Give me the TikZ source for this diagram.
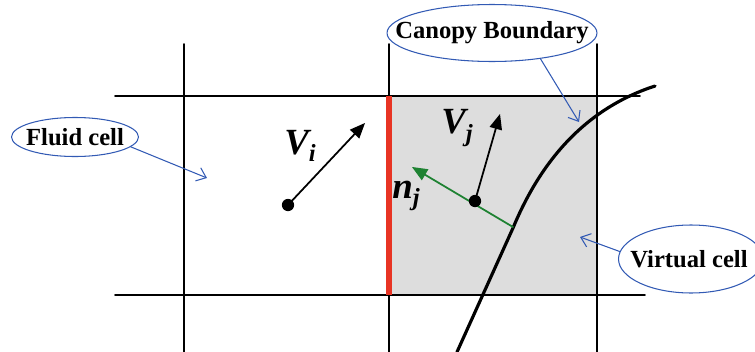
\documentclass[tikz,border=0pt]{standalone}
\usepackage{fontspec}
\setmainfont{Liberation Serif}
\usetikzlibrary{arrows,arrows.meta,shapes.geometric}
\definecolor{cellgray}{RGB}{221,221,221}
\definecolor{facered}{RGB}{232,52,36}
\definecolor{normgreen}{RGB}{30,130,50}
\definecolor{notblue}{RGB}{50,90,180}
\newcommand{\vlab}[2]{{\bfseries\itshape #1\raisebox{-0.45ex}{\fontsize{14}{14}\selectfont #2}}}
\tikzset{
  ring/.style={ellipse,draw=notblue,line width=0.6pt,inner sep=0pt},
  tag/.style={inner sep=0pt,font=\fontsize{14}{16}\selectfont\bfseries},
  tagarrow/.style={-{Straight Barb[length=5pt,width=8pt]},draw=notblue,line width=0.6pt},
  vecarrow/.style={->,>=triangle 45,line width=1pt},
  dot/.style={circle,fill=black,inner sep=0pt,minimum size=7pt},
  grid/.style={line width=1.1pt}
}
\begin{document}
\begin{tikzpicture}[line cap=round,line join=round,x=0.02cm,y=-0.02cm]
		\useasboundingbox (0,0) rectangle (755,352);
		% virtual cell
		\fill[cellgray] (389,96) rectangle (597,295);
		% grid lines
		\draw[grid] (115,96)--(640,96);
		\draw[grid] (115,295)--(645,295);
		\draw[grid] (184,44)--(184,352);
		\draw[grid] (389,44)--(389,352);
		\draw[grid] (597,44)--(597,352);
		% shared face
		\draw[facered,line width=3pt,line cap=butt] (389,96)--(389,295);
		% canopy boundary
		\draw[line width=1.8pt] (655,86) .. controls (575,112) and (535,175) .. (513,228) -- (457,352);
		% vectors
		\coordinate (wall) at (513,227);
		\coordinate (ntip) at (412,167);
		\draw[->,>=triangle 45,normgreen,line width=1pt] (wall)--(ntip);
		\node[dot] (pi) at (288,205) {};
		\node[dot] (pj) at (475,201) {};
		\coordinate (vitip) at (365,123);
		\coordinate (vjtip) at (500,114);
		\draw[vecarrow] (pi.center)--(vitip);
		\draw[vecarrow] (pj.center)--(vjtip);
		\node[font=\fontsize{21}{21}\selectfont] (vi) at (300,146) {\vlab{V}{i}};
		\node[font=\fontsize{21}{21}\selectfont] (vj) at (457,128) {\vlab{V}{j}};
		\node[font=\fontsize{21}{21}\selectfont] (nj) at (406,196) {\vlab{n}{j}};
		% labels
		\node[ring,minimum width=2.54cm,minimum height=0.78cm] (fluidring) at (75,137) {};
		\node[tag] (fluid) at (fluidring) {Fluid cell};
		\node[ring,minimum width=4.2cm,minimum height=1.14cm] (canopyring) at (492,33) {};
		\node[tag] (canopy) at (canopyring) {Canopy Boundary};
		\node[ring,minimum width=2.9cm,minimum height=1.36cm] (virtualring) at (691,259) {};
		\node[tag] (virtual) at (689,259) {Virtual cell};
		\coordinate (fluidpt) at (207,178);
		\coordinate (canopypt) at (579,122);
		\coordinate (virtualpt) at (580,237);
		\draw[tagarrow] (fluidring.-10)--(fluidpt);
		\draw[tagarrow] (canopyring.-28)--(canopypt);
		\draw[tagarrow] (virtualring.174)--(virtualpt);
		\end{tikzpicture}
\end{document}
